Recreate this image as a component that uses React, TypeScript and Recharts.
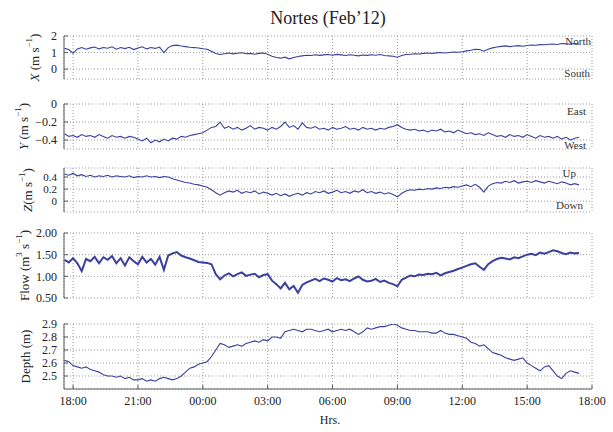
import { CartesianGrid, Line, LineChart, XAxis, YAxis } from "recharts";

// samples every 12 min, first one at 17:36 (hours counted from 18:00)
const startHour = -0.4;
const stepHour = 0.2;

const northVel = [
  1.25, 1.18, 0.95, 1.22, 1.3, 1.2, 1.28, 1.33, 1.22, 1.3, 1.26, 1.35, 1.2, 1.3, 1.24, 1.32, 1.18, 1.28, 1.35, 1.22, 1.3, 1.25, 1.33, 1.0, 1.3,
  1.42, 1.45, 1.4, 1.36, 1.32, 1.3, 1.27,
  1.23, 1.2, 1.08, 0.94, 0.88,
  0.93, 0.97, 0.92, 0.96, 0.99, 0.93, 0.95, 0.9, 0.95, 0.97, 0.9,
  0.78, 0.7, 0.66, 0.72, 0.62, 0.7, 0.76,
  0.8, 0.84, 0.82, 0.87, 0.83, 0.86, 0.88, 0.84, 0.89, 0.86, 0.82, 0.87, 0.84, 0.8, 0.85, 0.83, 0.87, 0.84, 0.88, 0.82, 0.8, 0.78,
  0.72,
  0.82, 0.88, 0.9, 0.93, 0.91, 0.95, 0.97, 0.94, 0.98, 1.0, 0.97, 1.0, 1.03, 1.02, 1.05,
  1.1, 1.14, 1.2, 1.18, 1.08, 1.2,
  1.28, 1.33, 1.37, 1.4, 1.36, 1.4, 1.42, 1.38,
  1.43, 1.46, 1.44, 1.48, 1.47, 1.5, 1.52, 1.49, 1.55, 1.53, 1.5, 1.55, 1.52,
];

const eastVel = [
  -0.33, -0.36, -0.35, -0.37, -0.34, -0.36, -0.35, -0.37, -0.34, -0.36, -0.38, -0.35, -0.37, -0.36, -0.38, -0.36, -0.37,
  -0.39, -0.41, -0.38, -0.43, -0.4, -0.42, -0.39, -0.41,
  -0.38, -0.39, -0.36, -0.37, -0.35, -0.34, -0.33, -0.32,
  -0.29, -0.26, -0.25, -0.2,
  -0.27, -0.25, -0.28, -0.26, -0.29, -0.27, -0.24, -0.28, -0.26, -0.27, -0.29, -0.26, -0.28, -0.25, -0.2, -0.26, -0.24, -0.28, -0.21, -0.26, -0.27, -0.25, -0.28, -0.27, -0.29, -0.26, -0.28, -0.27, -0.25, -0.28,
  -0.27, -0.29, -0.26, -0.28, -0.27, -0.29, -0.27, -0.28, -0.26, -0.25, -0.23, -0.26, -0.28,
  -0.29, -0.28, -0.3, -0.29, -0.31, -0.29, -0.3, -0.28, -0.31, -0.3, -0.32, -0.29, -0.31, -0.33,
  -0.32, -0.34, -0.33, -0.35, -0.32, -0.34, -0.36, -0.35, -0.37, -0.34, -0.36, -0.35, -0.37, -0.34, -0.36, -0.38, -0.35, -0.37, -0.36, -0.38, -0.36, -0.39, -0.37, -0.4, -0.38, -0.37,
];

const upVel = [
  0.45, 0.43, 0.46, 0.42, 0.44, 0.41, 0.43, 0.4, 0.42, 0.41, 0.43, 0.4, 0.42, 0.41, 0.4, 0.42, 0.39, 0.41, 0.4, 0.42, 0.4, 0.41, 0.39, 0.41, 0.4,
  0.37, 0.35, 0.33, 0.31, 0.3, 0.28, 0.27, 0.25,
  0.23, 0.19, 0.14, 0.1,
  0.14, 0.17, 0.15, 0.18, 0.13, 0.16, 0.14, 0.17, 0.12, 0.15, 0.13,
  0.1, 0.13, 0.09, 0.12, 0.08, 0.11, 0.13, 0.1, 0.14,
  0.12, 0.16, 0.14, 0.17, 0.13, 0.15, 0.18, 0.14, 0.16, 0.13, 0.17, 0.15, 0.19, 0.14, 0.16, 0.13, 0.15, 0.12, 0.14, 0.11,
  0.07,
  0.13, 0.17, 0.19, 0.18, 0.2, 0.19, 0.21, 0.2, 0.22, 0.21, 0.23, 0.22, 0.24, 0.23,
  0.25, 0.27, 0.24, 0.28, 0.23, 0.15, 0.25,
  0.29, 0.31, 0.3, 0.33, 0.31, 0.34, 0.3, 0.32, 0.33, 0.31, 0.34, 0.32, 0.3, 0.33, 0.31, 0.29, 0.32, 0.3, 0.27, 0.29, 0.27,
];

const flow = [
  1.38, 1.32, 1.42, 1.3, 1.12, 1.4, 1.35, 1.45, 1.3, 1.44, 1.38, 1.47, 1.3, 1.42, 1.25, 1.44, 1.35, 1.28, 1.45, 1.32, 1.4, 1.27, 1.45, 1.15,
  1.48, 1.53, 1.56,
  1.48, 1.44, 1.41, 1.37, 1.33, 1.32, 1.31, 1.28,
  1.05, 0.93,
  1.02, 1.07, 1.0, 1.05, 1.09, 1.01, 1.04, 1.06, 0.98, 1.03, 1.05,
  0.9, 0.82, 0.72, 0.85, 0.7, 0.78, 0.62, 0.8, 0.86,
  0.9, 0.94, 0.89, 0.95, 0.92, 0.88, 0.96, 0.91, 0.93, 0.89, 0.95, 1.0, 0.92, 0.88, 0.9, 0.94, 0.87, 0.9, 0.85, 0.82,
  0.77,
  0.92, 0.97, 1.02, 1.0, 1.04, 1.03, 1.06, 1.05, 1.08, 1.02, 1.07, 1.1, 1.13, 1.17,
  1.2, 1.24, 1.28, 1.3, 1.22, 1.15, 1.28,
  1.35, 1.4, 1.43, 1.41, 1.39, 1.44, 1.42, 1.46,
  1.5, 1.52, 1.49, 1.55, 1.52, 1.56, 1.6, 1.58, 1.54, 1.51, 1.55, 1.53, 1.54,
];

const depth = [
  2.62, 2.61, 2.58, 2.57, 2.56, 2.57, 2.55, 2.54, 2.53, 2.51, 2.5, 2.5, 2.49, 2.5, 2.48, 2.49, 2.47, 2.47, 2.48, 2.46,
  2.47, 2.46, 2.48, 2.49, 2.48, 2.47, 2.48, 2.5, 2.53, 2.56, 2.57, 2.59, 2.6, 2.61, 2.65, 2.7, 2.75, 2.74, 2.72, 2.73,
  2.74, 2.73, 2.75, 2.76, 2.77, 2.76, 2.78, 2.77, 2.8, 2.8, 2.79, 2.84, 2.85, 2.86, 2.85, 2.84, 2.86, 2.86, 2.85, 2.84,
  2.85, 2.86, 2.84, 2.85, 2.86, 2.85, 2.86, 2.84, 2.82, 2.84, 2.87, 2.86, 2.87, 2.88, 2.88, 2.89, 2.9, 2.89, 2.87, 2.86,
  2.85, 2.85, 2.84, 2.84, 2.84, 2.83, 2.83, 2.85, 2.83, 2.82, 2.82, 2.81, 2.8, 2.79, 2.76, 2.75, 2.73, 2.74, 2.71, 2.68,
  2.67, 2.66, 2.64, 2.63, 2.62, 2.63, 2.64, 2.6, 2.58, 2.56, 2.54, 2.57, 2.58, 2.54, 2.5, 2.48, 2.52, 2.54, 2.53, 2.52,
];

const hourTicks = [0, 3, 6, 9, 12, 15, 18, 21, 24];

const rows = northVel.map((v, i) => ({
  h: +(startHour + i * stepHour).toFixed(2),
  north: v,
  east: eastVel[i],
  up: upVel[i],
  flow: flow[i],
  depth: depth[i],
}));

const serif = "'Liberation Serif', 'DejaVu Serif', serif";
const lineColor = "#3b3f9e";
const frame = "#5c5c5c";

const fmtHour = (h: number) => `${String((18 + h) % 24).padStart(2, "0")}:00`;
const fmtNum = (digits: number) => (v: number) =>
  v === 0 && digits < 2 ? "0" : (v < 0 ? "\u2212" : "") + Math.abs(v).toFixed(digits);

type Part = { t: string; sup?: boolean; it?: boolean };

function yLabel(parts: Part[], x: number) {
  return (props: any) => {
    const vb = props.viewBox || {};
    const cy = (vb.y ?? 0) + (vb.height ?? 0) / 2;
    let up = false;
    return (
      <text
        x={x}
        y={cy}
        transform={`rotate(-90 ${x} ${cy})`}
        textAnchor="middle"
        dominantBaseline="central"
        style={{ fontFamily: serif, fontSize: 13, fill: "#222" }}
      >
        {parts.map((p, i) => {
          let dy = 0;
          if (p.sup && !up) { dy = -5; up = true; }
          else if (!p.sup && up) { dy = 5; up = false; }
          return (
            <tspan key={i} dy={dy} fontSize={p.sup ? 9 : 13} fontStyle={p.it ? "italic" : "normal"}>
              {p.t}
            </tspan>
          );
        })}
      </text>
    );
  };
}

function Panel({
  top, height, dataKey, domain, ticks, fmt, label, labelX, strokeWidth = 1.1, hours = false, tickSize = 12,
}: {
  top: number; height: number; dataKey: string; domain: [number, number]; ticks: number[];
  fmt: (v: number) => string; label: Part[]; labelX: number; strokeWidth?: number; hours?: boolean;
  tickSize?: number;
}) {
  const pad = 9;
  const axisH = hours ? 30 : 0;
  const tickFont = { fontFamily: serif, fontSize: tickSize, fill: "#222" };
  return (
    <div style={{ position: "absolute", left: 0, top: top - pad }}>
      <LineChart
        width={613}
        height={pad + height + axisH + pad}
        data={rows}
        margin={{ top: pad, right: 21, bottom: pad, left: 24 }}
      >
        <CartesianGrid stroke="#999" strokeDasharray="1 2" />
        <XAxis
          dataKey="h"
          type="number"
          domain={[-0.42, 24]}
          allowDataOverflow
          ticks={hourTicks}
          interval={0}
          height={axisH}
          tickFormatter={hours ? fmtHour : () => ""}
          tickSize={-4}
          tickMargin={hours ? 11 : 0}
          tick={{ ...tickFont, fontSize: 12 }}
          axisLine={{ stroke: frame }}
          tickLine={{ stroke: frame }}
        />
        <XAxis
          xAxisId="top"
          orientation="top"
          dataKey="h"
          type="number"
          domain={[-0.42, 24]}
          allowDataOverflow
          ticks={hourTicks}
          interval={0}
          height={0}
          tickFormatter={() => ""}
          tickSize={-4}
          axisLine={{ stroke: frame }}
          tickLine={{ stroke: frame }}
        />
        <YAxis
          type="number"
          domain={domain}
          allowDataOverflow
          ticks={ticks}
          interval={0}
          width={40}
          tickFormatter={fmt}
          tickSize={-4}
          tickMargin={11}
          tick={tickFont}
          axisLine={{ stroke: frame }}
          tickLine={{ stroke: frame }}
          label={yLabel(label, labelX)}
        />
        <YAxis
          yAxisId="right"
          orientation="right"
          type="number"
          domain={domain}
          allowDataOverflow
          ticks={ticks}
          interval={0}
          width={0}
          tickFormatter={() => ""}
          tickSize={-4}
          axisLine={{ stroke: frame }}
          tickLine={{ stroke: frame }}
        />
        <Line
          dataKey={dataKey}
          stroke={lineColor}
          strokeWidth={strokeWidth}
          dot={false}
          isAnimationActive={false}
        />
      </LineChart>
    </div>
  );
}

const note = (text: string, right: number, cy: number) => (
  <div
    style={{
      position: "absolute", right, top: cy - 7, fontSize: 11, lineHeight: "14px",
      fontFamily: serif, color: "#333",
    }}
  >
    {text}
  </div>
);

export default function App() {
  return (
    <div style={{ position: "relative", width: 613, height: 432, background: "#fff", fontFamily: serif }}>
      <style>{"body{margin:0}"}</style>
      <div
        style={{
          position: "absolute", left: 228, width: 200, top: 7, textAlign: "center",
          fontSize: 18, lineHeight: "22px", color: "#222",
        }}
      >
        Nortes (Feb’12)
      </div>
      <Panel
        top={36} height={43} dataKey="north" domain={[-0.6, 2]} ticks={[0, 1, 2]} fmt={fmtNum(0)}
        label={[{ t: "X", it: true }, { t: " (m s" }, { t: "\u22121", sup: true }, { t: ")" }]} labelX={34}
      />
      <Panel
        top={104} height={45} dataKey="east" domain={[-0.5, 0]} ticks={[-0.4, -0.2, 0]} fmt={fmtNum(1)}
        label={[{ t: "Y", it: true }, { t: " (m s" }, { t: "\u22121", sup: true }, { t: ")" }]} labelX={23}
      />
      <Panel
        top={168} height={44} dataKey="up" domain={[-0.18, 0.55]} ticks={[0, 0.2, 0.4]} fmt={fmtNum(1)}
        label={[{ t: "Z", it: true }, { t: "(m s" }, { t: "\u22121", sup: true }, { t: ")" }]} labelX={27}
        tickSize={11}
      />
      <Panel
        top={233} height={65} dataKey="flow" domain={[0.5, 2]} ticks={[0.5, 1, 1.5, 2]} fmt={fmtNum(2)}
        label={[{ t: "Flow (m" }, { t: "3", sup: true }, { t: " s" }, { t: "\u22121", sup: true }, { t: ")" }]}
        labelX={24} strokeWidth={2}
      />
      <Panel
        top={324} height={65} dataKey="depth" domain={[2.4, 2.9]} ticks={[2.5, 2.6, 2.7, 2.8, 2.9]} fmt={fmtNum(1)}
        label={[{ t: "Depth (m)" }]} labelX={25} hours tickSize={12}
      />
      {note("North", 22, 41)}
      {note("South", 23, 73)}
      {note("East", 27, 111)}
      {note("West", 27, 145)}
      {note("Up", 37, 173)}
      {note("Down", 30, 205)}
      <div
        style={{
          position: "absolute", left: 280, width: 100, top: 413, textAlign: "center",
          fontSize: 12, lineHeight: "14px", color: "#222",
        }}
      >
        Hrs.
      </div>
    </div>
  );
}
